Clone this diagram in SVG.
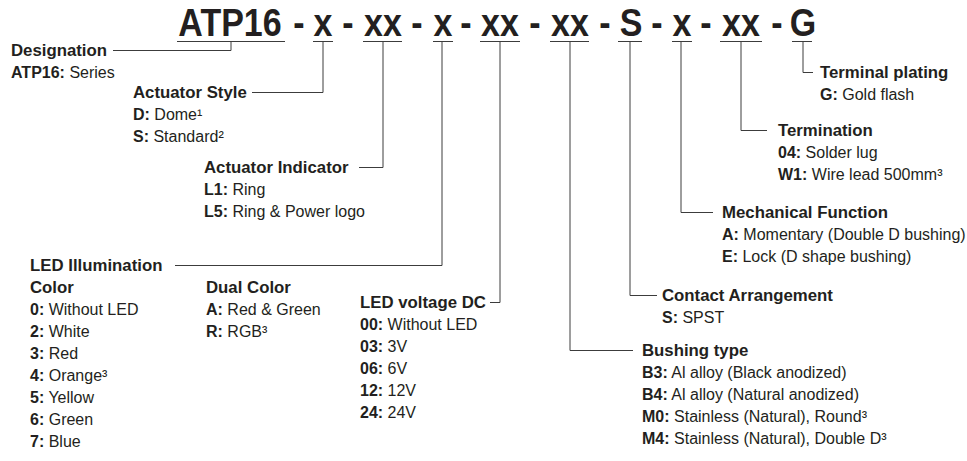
<svg xmlns="http://www.w3.org/2000/svg" width="967" height="461" viewBox="0 0 967 461">
<style>
.ti{font-family:"Liberation Sans",Arial,sans-serif;font-weight:bold;font-size:34px;fill:#231f20;text-anchor:middle}
.h{font-family:"Liberation Sans",Arial,sans-serif;font-weight:bold;font-size:16.8px;fill:#231f20}
.t{font-family:"Liberation Sans",Arial,sans-serif;font-size:16px;fill:#231f20}
.b{font-weight:bold}
.c{stroke:#3c3c3c;stroke-width:1;fill:none}
</style>
<rect width="967" height="461" fill="#ffffff"/>
<g id="title" transform="translate(0,36) scale(1,1.12) translate(0,-36)">
<text class="ti" x="230" y="36">ATP16</text>
<text class="ti" x="299" y="36">-</text>
<text class="ti" x="323" y="36">x</text>
<text class="ti" x="348" y="36">-</text>
<text class="ti" x="383" y="36">xx</text>
<text class="ti" x="417" y="36">-</text>
<text class="ti" x="443" y="36">x</text>
<text class="ti" x="466" y="36">-</text>
<text class="ti" x="500" y="36">xx</text>
<text class="ti" x="535" y="36">-</text>
<text class="ti" x="570" y="36">xx</text>
<text class="ti" x="605" y="36">-</text>
<text class="ti" x="631" y="36">S</text>
<text class="ti" x="657" y="36">-</text>
<text class="ti" x="682" y="36">x</text>
<text class="ti" x="706" y="36">-</text>
<text class="ti" x="741" y="36">xx</text>
<text class="ti" x="777" y="36">-</text>
<text class="ti" x="803" y="36">G</text>
</g>
<g id="connectors">
<path class="c" d="M177 41.5H285M231 41.5V50.5H113"/>
<path class="c" d="M313 41.5H333M323 41.5V92.5H252"/>
<path class="c" d="M363 41.5H402M383 41.5V167.5H359"/>
<path class="c" d="M433 41.5H453M442 41.5V265.5H175"/>
<path class="c" d="M480 41.5H520M500 41.5V302.5H490"/>
<path class="c" d="M550 41.5H589M570 41.5V350.5H633"/>
<path class="c" d="M618 41.5H642M630 41.5V295.5H657"/>
<path class="c" d="M672 41.5H692M681 41.5V212.5H713"/>
<path class="c" d="M720 41.5H762M741 41.5V130.5H767"/>
<path class="c" d="M792 41.5H812M803 41.5V72.5H813"/>
</g>
<g id="designation">
<text class="h" x="11" y="56">Designation</text>
<text class="t" x="11" y="78"><tspan class="b">ATP16:</tspan> Series</text>
</g>
<g id="actuator-style">
<text class="h" x="133" y="98">Actuator Style</text>
<text class="t" x="133" y="120"><tspan class="b">D:</tspan> Dome¹</text>
<text class="t" x="133" y="142"><tspan class="b">S:</tspan> Standard²</text>
</g>
<g id="actuator-indicator">
<text class="h" x="204" y="173">Actuator Indicator</text>
<text class="t" x="204" y="195"><tspan class="b">L1:</tspan> Ring</text>
<text class="t" x="204" y="217"><tspan class="b">L5:</tspan> Ring &amp; Power logo</text>
</g>
<g id="led-illumination">
<text class="h" x="30" y="271">LED Illumination</text>
<text class="h" x="30" y="293">Color</text>
<text class="t" x="30" y="315"><tspan class="b">0:</tspan> Without LED</text>
<text class="t" x="30" y="337"><tspan class="b">2:</tspan> White</text>
<text class="t" x="30" y="359"><tspan class="b">3:</tspan> Red</text>
<text class="t" x="30" y="381"><tspan class="b">4:</tspan> Orange³</text>
<text class="t" x="30" y="403"><tspan class="b">5:</tspan> Yellow</text>
<text class="t" x="30" y="425"><tspan class="b">6:</tspan> Green</text>
<text class="t" x="30" y="447"><tspan class="b">7:</tspan> Blue</text>
<text class="h" x="206" y="293">Dual Color</text>
<text class="t" x="206" y="315"><tspan class="b">A:</tspan> Red &amp; Green</text>
<text class="t" x="206" y="337"><tspan class="b">R:</tspan> RGB³</text>
</g>
<g id="led-voltage">
<text class="h" x="360" y="308">LED voltage DC</text>
<text class="t" x="360" y="330"><tspan class="b">00:</tspan> Without LED</text>
<text class="t" x="360" y="352"><tspan class="b">03:</tspan> 3V</text>
<text class="t" x="360" y="374"><tspan class="b">06:</tspan> 6V</text>
<text class="t" x="360" y="396"><tspan class="b">12:</tspan> 12V</text>
<text class="t" x="360" y="418"><tspan class="b">24:</tspan> 24V</text>
</g>
<g id="bushing-type">
<text class="h" x="642" y="356">Bushing type</text>
<text class="t" x="642" y="378"><tspan class="b">B3:</tspan> Al alloy (Black anodized)</text>
<text class="t" x="642" y="400"><tspan class="b">B4:</tspan> Al alloy (Natural anodized)</text>
<text class="t" x="642" y="422"><tspan class="b">M0:</tspan> Stainless (Natural), Round³</text>
<text class="t" x="642" y="444"><tspan class="b">M4:</tspan> Stainless (Natural), Double D³</text>
</g>
<g id="contact-arrangement">
<text class="h" x="662" y="301">Contact Arrangement</text>
<text class="t" x="662" y="323"><tspan class="b">S:</tspan> SPST</text>
</g>
<g id="mechanical-function">
<text class="h" x="722" y="218">Mechanical Function</text>
<text class="t" x="722" y="240"><tspan class="b">A:</tspan> Momentary (Double D bushing)</text>
<text class="t" x="722" y="262"><tspan class="b">E:</tspan> Lock (D shape bushing)</text>
</g>
<g id="termination">
<text class="h" x="778" y="136">Termination</text>
<text class="t" x="778" y="158"><tspan class="b">04:</tspan> Solder lug</text>
<text class="t" x="778" y="180"><tspan class="b">W1:</tspan> Wire lead 500mm³</text>
</g>
<g id="terminal-plating">
<text class="h" x="820" y="78">Terminal plating</text>
<text class="t" x="820" y="100"><tspan class="b">G:</tspan> Gold flash</text>
</g>
</svg>
